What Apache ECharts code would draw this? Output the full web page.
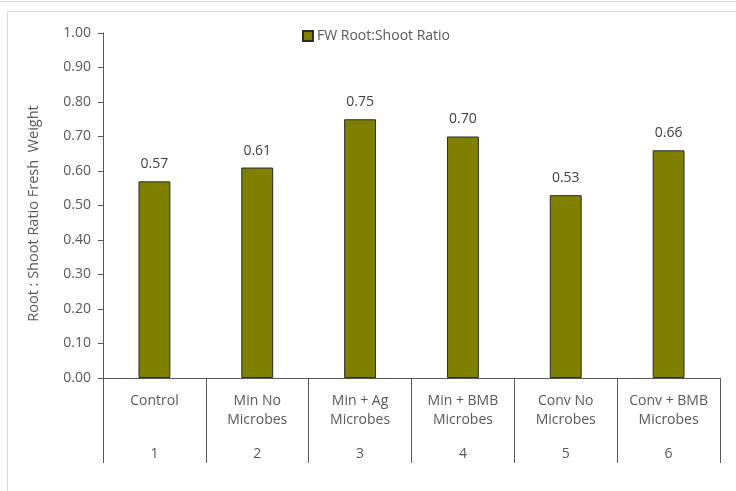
<!DOCTYPE html>
<html>
<head>
<meta charset="utf-8">
<script src="https://cdn.jsdelivr.net/npm/echarts@6/dist/echarts.min.js"></script>
<style>
html,body{margin:0;padding:0;background:#fff;}
#chart{width:736px;height:491px;}
</style>
</head>
<body>
<div id="chart"></div>
<script>
var categories = ["Control", "Min No\nMicrobes", "Min + Ag\nMicrobes", "Min + BMB\nMicrobes", "Conv No\nMicrobes", "Conv + BMB\nMicrobes"];
var groupNumbers = ["1", "2", "3", "4", "5", "6"];
var ratioValues = [0.57, 0.61, 0.75, 0.70, 0.53, 0.66];
var yTicks = { min: 0, max: 1, interval: 0.1 };
var seriesName = "FW Root:Shoot Ratio";
var yTitle = "Root : Shoot Ratio Fresh  Weight";

var FONT = "Open Sans";
var TXT = "#595959";
var FS = 14;
var chart = echarts.init(document.getElementById('chart'));
chart.setOption({
  animation: false,
  textStyle: { fontFamily: FONT },
  graphic: [
    { type: 'line', shape: { x1: 0, y1: 1.5, x2: 736, y2: 1.5 }, style: { stroke: '#d9d9d9', lineWidth: 1 } },
    { type: 'line', shape: { x1: 7.5, y1: 11.5, x2: 736, y2: 11.5 }, style: { stroke: '#d9d9d9', lineWidth: 1 } },
    { type: 'line', shape: { x1: 7.5, y1: 11.5, x2: 7.5, y2: 491 }, style: { stroke: '#d9d9d9', lineWidth: 1 } }
  ],
  legend: {
    left: 297, top: 24,
    itemWidth: 10, itemHeight: 10, itemGap: 4,
    textStyle: { color: TXT, fontSize: FS, fontFamily: FONT, padding: [0, 0, 0, -1] },
    data: [{ name: seriesName, icon: 'rect' }]
  },
  grid: { left: 103, right: 16, top: 33, bottom: 113, containLabel: false },
  xAxis: [
    {
      type: 'category', data: categories, position: 'bottom',
      axisLine: { show: true, lineStyle: { color: '#595959', width: 1 } },
      axisTick: { show: true, length: 85, interval: 0, lineStyle: { color: '#595959', width: 1 } },
      axisLabel: { interval: 0, margin: 14, color: TXT, fontSize: FS, lineHeight: 19, fontFamily: FONT }
    },
    {
      type: 'category', data: groupNumbers, position: 'bottom',
      axisLine: { show: false }, axisTick: { show: false },
      axisLabel: { interval: 0, margin: 69, color: TXT, fontSize: FS, fontFamily: FONT }
    }
  ],
  yAxis: {
    type: 'value', min: yTicks.min, max: yTicks.max, interval: yTicks.interval,
    name: yTitle, nameLocation: 'middle', nameGap: 62, nameRotate: 90,
    nameTextStyle: { color: TXT, fontSize: 14.5, fontFamily: FONT, padding: [0, 16, 0, 0] },
    axisLine: { show: true, lineStyle: { color: '#595959', width: 1 } },
    axisTick: { show: true, length: 5, lineStyle: { color: '#595959' } },
    splitLine: { show: false },
    axisLabel: { color: TXT, fontSize: FS, margin: 12, fontFamily: FONT, formatter: function (v) { return v.toFixed(2); } }
  },
  series: [{
    name: seriesName, type: 'bar', data: ratioValues, xAxisIndex: 0,
    barWidth: '31%',
    itemStyle: { color: '#808000', borderColor: '#2b2b2b', borderWidth: 1 },
    label: { show: true, position: 'top', distance: 10, color: '#404040', fontSize: FS, fontFamily: FONT, formatter: function (p) { return p.value.toFixed(2); } }
  }]
});
</script>
</body>
</html>
